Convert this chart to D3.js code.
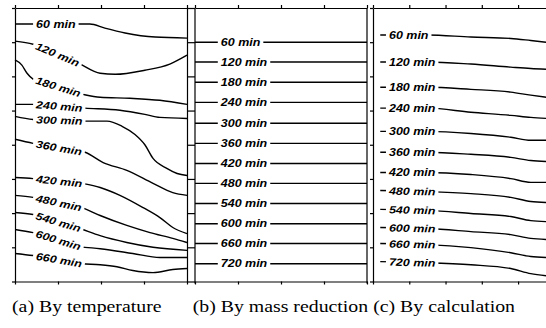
<!DOCTYPE html>
<html lang="en">
<head>
<meta charset="utf-8">
<title>Char front isochrones</title>
<script src="https://d3js.org/d3.v7.min.js"></script>
<style>
  body { margin: 0; background: #fff; }
  .lbl { font-family: "Liberation Sans", Arial, sans-serif; font-weight: bold; font-style: italic; font-size: 10.4px; }
  .cap { font-family: "Liberation Serif", "Times New Roman", serif; font-size: 16.5px; }
  .axis path, .axis line { stroke: #000; stroke-width: 1.2; }
  .curve { fill: none; stroke: #000; stroke-width: 1.4; }
</style>
</head>
<body>
<svg width="546" height="328"></svg>
<script>
// isochrone labels
var labelsA = ["60 min","120 min","180 min","240 min","300 min","360 min","420 min","480 min","540 min","600 min","660 min"];
var labelsBC = ["60 min","120 min","180 min","240 min","300 min","360 min","420 min","480 min","540 min","600 min","660 min","720 min"];

// (a) by temperature: [x, depth] pairs
var curvesA = [
  [[0,0.47],[0.42,0.47],[1.47,0.47],[1.74,0.47],[2.09,0.59],[2.56,0.73],[3.26,0.85],[4,0.88]],
  [[0,0.97],[0.42,1.06],[1.47,1.61],[1.98,1.91],[2.33,1.94],[3.02,1.82],[3.6,1.64],[4,1.38]],
  [[0,1.52],[0.16,1.67],[0.28,1.91],[0.42,2.08],[1.56,2.52],[1.98,2.61],[2.67,2.64],[3.37,2.70],[4,2.82]],
  [[0,2.82],[0.42,2.82],[1.63,2.93],[2.44,2.99],[3.02,3.11],[3.37,3.2],[4,3.23]],
  [[0,3.17],[0.42,3.26],[1.63,3.31],[2.14,3.31],[2.49,3.46],[2.79,3.7],[3.02,4.0],[3.21,4.4],[3.53,4.69],[3.77,4.84],[4,4.9]],
  [[0,3.84],[0.42,3.96],[1.63,4.22],[2.05,4.52],[2.6,4.75],[3.21,5.13],[3.67,5.4],[4,5.48]],
  [[0,4.96],[0.42,4.99],[1.56,5.13],[1.98,5.25],[2.44,5.48],[2.98,5.84],[3.37,6.13],[3.67,6.42],[4,6.6]],
  [[0,5.48],[0.42,5.54],[1.56,5.84],[1.98,6.07],[2.6,6.36],[3.14,6.57],[3.67,6.74],[4,6.86]],
  [[0,5.98],[0.42,6.04],[1.51,6.45],[1.98,6.66],[2.6,6.86],[3.21,7.0],[4,7.09]],
  [[0,6.48],[0.42,6.57],[1.51,6.98],[1.98,7.04],[2.74,7.18],[3.37,7.3],[4,7.3]],
  [[0,7.18],[0.42,7.24],[1.56,7.48],[1.98,7.51],[2.37,7.57],[2.74,7.68],[3.21,7.74],[3.67,7.65],[4,7.62]]
];

// (b) by mass reduction: flat fronts
var xB = [0, 4];
var depthB = [1.0, 1.58, 2.17, 2.76, 3.37, 3.96, 4.55, 5.13, 5.72, 6.31, 6.89, 7.48];

// (c) by calculation
var xC = [0.2, 1.5, 2.7, 3.8, 4.35, 4.77];
var depthC = [
  [0.79,0.79,0.85,0.89,0.95,1.00],
  [1.58,1.58,1.64,1.73,1.77,1.79],
  [2.32,2.32,2.38,2.46,2.55,2.61],
  [2.93,2.93,3.05,3.14,3.20,3.23],
  [3.61,3.61,3.67,3.78,3.87,3.87],
  [4.22,4.22,4.28,4.37,4.46,4.49],
  [4.81,4.81,4.87,4.99,5.10,5.10],
  [5.34,5.37,5.43,5.54,5.66,5.69],
  [5.89,5.92,6.01,6.10,6.22,6.25],
  [6.42,6.45,6.54,6.63,6.74,6.77],
  [6.89,6.92,7.01,7.16,7.27,7.30],
  [7.42,7.45,7.51,7.62,7.77,7.83]
];

var xTicks = [0, 1, 2, 3, 4];
var yTicks = [0, 1, 2, 3, 4, 5, 6, 7, 8];
var captions = ["(a) By temperature", "(b) By mass reduction", "(c) By calculation"];

var top_ = 8, bottom_ = 281.5;
var stretch = 1.2; // the scan is a bit wider than tall
var svg = d3.select("svg");

var y = d3.scaleLinear().domain([0, 8]).range([top_, bottom_]);
var xA = d3.scaleLinear().domain([0, 4]).range([15, 187]);
var xBs = d3.scaleLinear().domain([0, 4]).range([195, 367]);
var xCs = d3.scaleLinear().domain([0, 4.77]).range([373, 546]);

function frame(xs) {
  svg.append("g").attr("class", "axis")
    .attr("transform", "translate(0," + top_ + ")")
    .call(d3.axisTop(xs).tickValues(xTicks).tickSize(3).tickSizeOuter(0).tickFormat(""));
  svg.append("g").attr("class", "axis")
    .attr("transform", "translate(0," + bottom_ + ")")
    .call(d3.axisBottom(xs).tickValues(xTicks).tickSize(3).tickSizeOuter(0).tickFormat(""));
}
frame(xA); frame(xBs); frame(xCs);

// left axis of (a)
svg.append("g").attr("class", "axis")
  .attr("transform", "translate(15,0)")
  .call(d3.axisLeft(y).tickValues(yTicks).tickSize(3).tickSizeOuter(0).tickFormat(""));
// strip between (a) and (b)
svg.append("g").attr("class", "axis")
  .attr("transform", "translate(187,0)")
  .call(d3.axisRight(y).tickValues(yTicks).tickSize(8).tickSizeOuter(0).tickFormat(""));
svg.append("line").attr("x1", 195).attr("x2", 195).attr("y1", top_).attr("y2", bottom_ + 2)
  .attr("stroke", "#000").attr("stroke-width", 1.2);
// right edge of (b), left axis of (c)
svg.append("line").attr("x1", 367).attr("x2", 367).attr("y1", top_).attr("y2", bottom_ + 2)
  .attr("stroke", "#000").attr("stroke-width", 1.2);
var axC = svg.append("g").attr("class", "axis")
  .attr("transform", "translate(373,0)")
  .call(d3.axisLeft(y).tickValues(yTicks).tickSize(3).tickSizeOuter(0).tickFormat(""));
axC.select(".domain").attr("stroke-width", 2);

var line = function(xs) {
  return d3.line().x(function(d){ return xs(d[0]); }).y(function(d){ return y(d[1]); })
    .curve(d3.curveMonotoneX);
};

// labels start at labelX and follow the local slope of the curve
function drawSet(xs, sets, labels, labelX) {
  var g = svg.append("g");
  sets.forEach(function(pts, i) {
    g.append("path").attr("class", "curve").attr("d", line(xs)(pts));
    var k = 0;
    while (k < pts.length - 2 && pts[k + 1][0] < labelX) k++;
    var x0 = xs(pts[k][0]), y0 = y(pts[k][1]), x1 = xs(pts[k + 1][0]), y1 = y(pts[k + 1][1]);
    var cx = xs(labelX), t = (cx - x0) / (x1 - x0);
    var cy = y0 + t * (y1 - y0);
    var ang = Math.atan2(y1 - y0, x1 - x0) * 180 / Math.PI;
    var lg = g.append("g").attr("transform", "translate(" + cx + "," + cy + ") rotate(" + ang + ")");
    var rect = lg.append("rect").attr("fill", "#fff");
    var txt = lg.append("text").attr("class", "lbl").attr("dy", "0.36em").text(labels[i]);
    var w = txt.node().getComputedTextLength() * stretch;
    txt.attr("textLength", w).attr("lengthAdjust", "spacingAndGlyphs");
    rect.attr("x", -3).attr("y", -6).attr("width", w + 6).attr("height", 12);
  });
}

drawSet(xA, curvesA, labelsA, 0.49);
drawSet(xBs, depthB.map(function(d){ return xB.map(function(x){ return [x, d]; }); }), labelsBC, 0.6);
drawSet(xCs, depthC.map(function(row){ return row.map(function(d, j){ return [xC[j], d]; }); }), labelsBC, 0.44);

// captions: same stretch for all; (a) from the left, (c) ends at 515, (b) just before (c)
var caps = svg.selectAll("text.cap").data(captions).enter().append("text")
  .attr("class", "cap").attr("y", 312).text(function(d){ return d; });
var widths = caps.nodes().map(function(n){ return n.getComputedTextLength() * stretch; });
var capX = [12, 0, 515 - widths[2]];
capX[1] = capX[2] - 5 - widths[1];
caps.attr("x", function(d, i){ return capX[i]; })
  .attr("textLength", function(d, i){ return widths[i]; })
  .attr("lengthAdjust", "spacingAndGlyphs");
</script>
</body>
</html>
